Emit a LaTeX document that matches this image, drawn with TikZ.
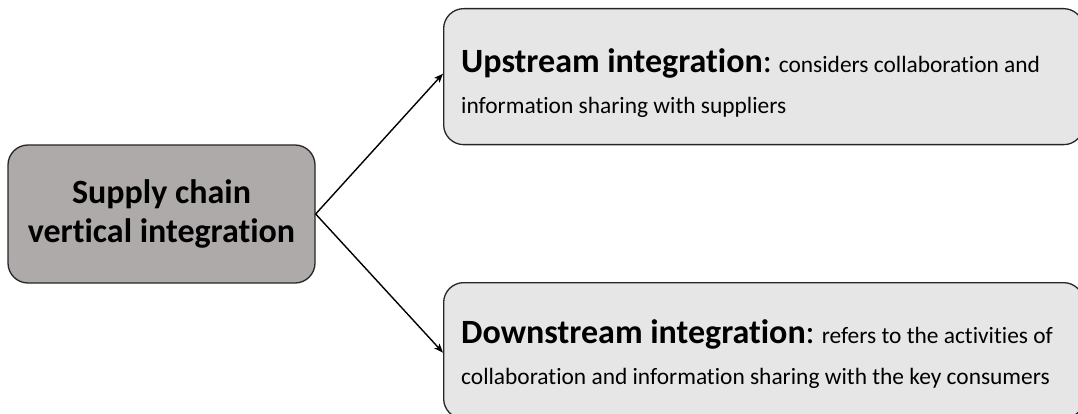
\documentclass[tikz,border=0pt]{standalone}
\usepackage{fontspec}
\setmainfont{Carlito}[Ligatures=NoCommon]
\usetikzlibrary{arrows.meta}
\definecolor{darkbox}{HTML}{AEAAAA}
\definecolor{lightbox}{HTML}{E7E6E6}
\definecolor{edge}{HTML}{262626}
\begin{document}
\begin{tikzpicture}[x=1pt,y=-1pt,
  box/.style={draw=edge, line width=1.3pt, rounded corners=20pt, inner sep=0pt},
  leftbox/.style={box, fill=darkbox, minimum width=307pt, minimum height=138pt, align=center,
     font=\fontsize{34}{39}\selectfont\bfseries},
  rightbox/.style={box, fill=lightbox, anchor=north west, minimum width=640pt, minimum height=136pt},
  txt/.style={anchor=north west, align=left, inner sep=0pt, font=\fontsize{23.4}{41}\selectfont},
  arr/.style={draw=black, line width=1.4pt, -{Stealth[length=9pt,width=7pt,inset=2pt]}}
]
\useasboundingbox (0,0) rectangle (1078,414);
\node[leftbox] (scvi) at (161.5,214) {Supply chain\\vertical integration};
\node[rightbox] (up) at (443,8) {};
\node[rightbox] (down) at (443,282) {};
\node[txt] (uptxt) at (461,48) {{\fontsize{34}{40}\selectfont\bfseries Upstream integration}{\fontsize{34}{40}\selectfont:} considers collaboration and\\information sharing with suppliers};
\node[txt] (downtxt) at (461,319) {{\fontsize{34}{40}\selectfont\bfseries Downstream integration}{\fontsize{34}{40}\selectfont:} refers to the activities of\\collaboration and information sharing with the key consumers};
\draw[arr] (scvi.east) -- ([yshift=3pt]up.west);
\draw[arr] (scvi.east) -- ([yshift=-2pt]down.west);
\end{tikzpicture}
\end{document}
